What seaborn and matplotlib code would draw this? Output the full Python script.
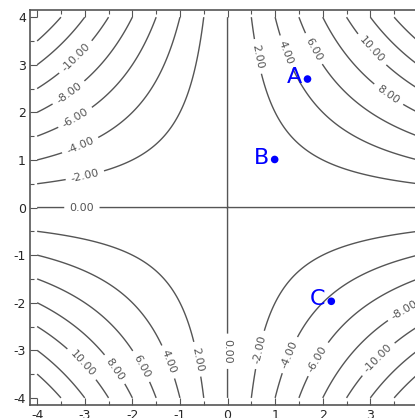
import numpy as np
import seaborn as sns
import matplotlib.pyplot as plt
from matplotlib.ticker import MultipleLocator

# grid for the contour field f(x, y) = x * y
x_grid = np.linspace(-4, 4, 200)
y_grid = np.linspace(-4, 4, 200)
outer_levels = [-14, -12, 12, 14]
label_levels = [-10, -8, -6, -4, -2, 0, 2, 4, 6, 8, 10]

# where the contour labels sit
label_pos = [(-3.17, 3.14), (-3.35, 2.43), (-3.2, 1.89), (-3.1, 1.32), (-3.0, 0.69),
             (-3.06, 0.0), (0.61, 3.17), (1.19, 3.25), (1.76, 3.31), (2.98, 3.27),
             (3.35, 2.33), (-3.06, -3.29), (-2.37, -3.40), (-1.80, -3.33),
             (-1.26, -3.25), (-0.65, -3.19), (-0.02, -3.02), (0.63, -2.98),
             (1.26, -3.08), (1.82, -3.14), (3.12, -3.14), (3.71, -2.14)]

point_names = ['A', 'B', 'C']
point_x = [1.68, 0.99, 2.18]
point_y = [2.70, 1.01, -1.97]

sns.set_style('ticks')
plt.rcParams['axes.unicode_minus'] = False
fig = plt.figure(figsize=(4.15, 4.18), dpi=100)
ax = fig.add_axes([0.0723, 0.031, 0.952, 0.945])

X, Y = np.meshgrid(x_grid, y_grid)
Z = X * Y
ax.contour(X, Y, Z, levels=outer_levels, colors='#555555', linewidths=1.0,
           negative_linestyles='solid')
cs = ax.contour(X, Y, Z, levels=label_levels, colors='#555555', linewidths=1.0,
                negative_linestyles='solid')
ax.clabel(cs, fmt='%.2f', fontsize=8, colors='#555555',
          manual=label_pos, inline=True, inline_spacing=6)

sns.scatterplot(x=point_x, y=point_y, color='blue', s=30, edgecolor='none',
                ax=ax, zorder=5)
for n, px, py in zip(point_names, point_x, point_y):
    ax.text(px - 0.12, py + 0.04, n, color='blue', fontsize=16,
            ha='right', va='center')

ax.set_xlim(-4.15, 4.15)
ax.set_ylim(-4.15, 4.15)
ax.xaxis.set_major_locator(MultipleLocator(1))
ax.yaxis.set_major_locator(MultipleLocator(1))
ax.xaxis.set_minor_locator(MultipleLocator(0.5))
ax.yaxis.set_minor_locator(MultipleLocator(0.5))
ax.tick_params(which='both', direction='in', top=True, right=True,
               color='#555555', labelsize=9, pad=3)
ax.tick_params(which='major', length=5, width=0.8)
ax.tick_params(which='minor', length=3, width=0.8)
for sp in ax.spines.values():
    sp.set_color('#555555')
    sp.set_linewidth(1.2)

fig.savefig('out.png', dpi=100)
